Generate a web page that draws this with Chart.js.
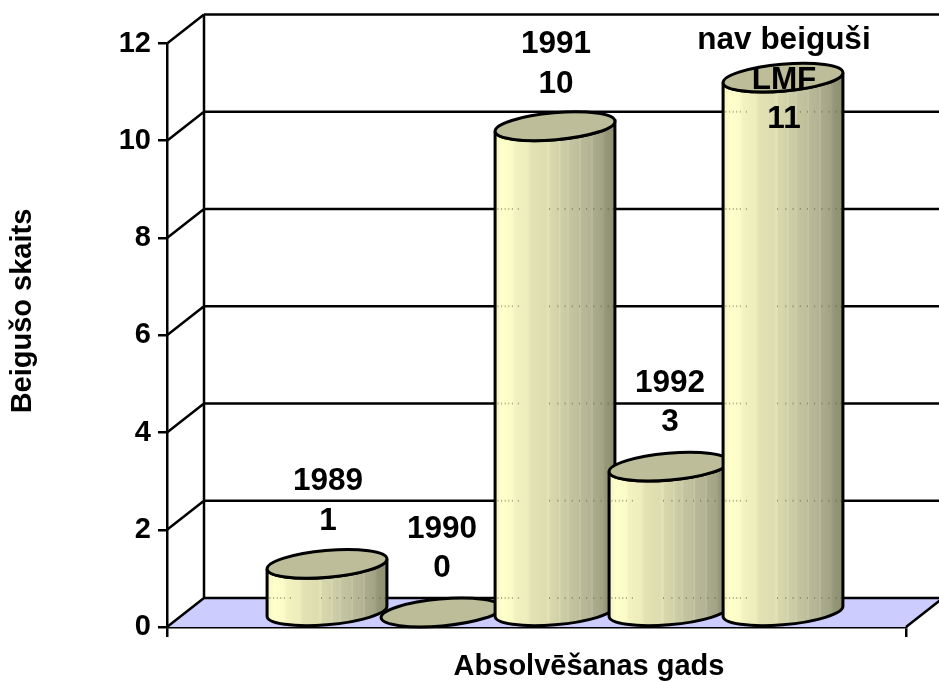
<!DOCTYPE html>
<html><head><meta charset="utf-8">
<style>html,body{margin:0;padding:0;background:#fff}#w{width:939px;height:682px}</style>
<script src="https://cdn.jsdelivr.net/npm/chart.js@4"></script></head>
<body><div id="w"><canvas id="c" width="939" height="682"></canvas></div>
<script>
const categories = ['Absolvēšanas gads'];
const seriesNames = ['1989', '1990', '1991', '1992', 'nav beiguši LMF'];
const seriesValues = [1, 0, 10, 3, 11];
const labelLines = [['1989','1'],['1990','0'],['1991','10'],['1992','3'],['nav beiguši','LMF','11']];
const labelLift = [43, 44, 42, 44, -42];
const yTicks = [0, 2, 4, 6, 8, 10, 12];
const xTitle = 'Absolvēšanas gads';
const yTitle = 'Beigušo skaits';

const DX = 37, DY = 29;
const FONT = '"Liberation Sans", Arial, sans-serif';
const bands = [[0,'#F4F4C4'],[.06,'#FFFFCC'],[.14,'#FBFBC8'],[.17,'#F2F2C0'],[.27,'#EDEDBD'],[.3,'#E2E2B4'],[.42,'#DDDDAF'],
  [.45,'#E4E4BC'],[.46,'#D8D8AC'],[.53,'#D2D2A8'],[.54,'#DADAB8'],[.55,'#CDCDA6'],[.6,'#C9C9A4'],[.61,'#D2D2B4'],[.62,'#C4C4A0'],
  [.7,'#BFBF9C'],[.71,'#C8C8AE'],[.72,'#B9B998'],[.8,'#B4B494'],[.81,'#BCBCA2'],[.82,'#ABAB8D'],[.9,'#A2A284'],[.92,'#96967A'],[1,'#8E8E70']];
const dotFracs = [.02,.05,.08,.11,.14,.19,.45,.52,.58,.64,.7,.76,.82,.88,.94,.98];
const TILT = -5 * Math.PI / 180, MINOR = 13.5;

const wallPlugin = {
  id: 'wall',
  beforeDatasetsDraw(chart) {
    const {ctx, chartArea: a, scales: {y}} = chart;
    const y0 = y.getPixelForValue(0), yTop = y.getPixelForValue(12);
    ctx.save();
    ctx.fillStyle = '#CCCCFF';
    ctx.beginPath();
    ctx.moveTo(a.left, y0); ctx.lineTo(a.left + DX, y0 - DY); ctx.lineTo(a.right + DX, y0 - DY); ctx.lineTo(a.right, y0);
    ctx.closePath(); ctx.fill();
    ctx.strokeStyle = '#000'; ctx.lineWidth = 2.5;
    ctx.beginPath();
    for (const v of yTicks) {
      const p = y.getPixelForValue(v);
      ctx.moveTo(a.left, p); ctx.lineTo(a.left + DX, p - DY);
      ctx.moveTo(a.left + DX, p - DY); ctx.lineTo(chart.width, p - DY);
    }
    ctx.moveTo(a.left + DX, yTop - DY); ctx.lineTo(a.left + DX, y0 - DY);
    ctx.moveTo(a.right, y0); ctx.lineTo(a.right + DX, y0 - DY);
    ctx.stroke();
    ctx.restore();
  }
};

function drawCylinder(ctx, y, el) {
  const cx = el.x + DX / 2, top = el.y - DY / 2, base = el.base - DY / 2, A = el.width / 2;
  const t0 = Math.atan2(-MINOR * Math.sin(TILT), A * Math.cos(TILT));
  const ex = A * Math.cos(t0) * Math.cos(TILT) - MINOR * Math.sin(t0) * Math.sin(TILT);
  const ey = A * Math.cos(t0) * Math.sin(TILT) + MINOR * Math.sin(t0) * Math.cos(TILT);
  ctx.save();
  ctx.strokeStyle = '#000'; ctx.lineWidth = 3;
  if (base - top > 1) {
    const g = ctx.createLinearGradient(cx - ex, 0, cx + ex, 0);
    bands.forEach(b => g.addColorStop(b[0], b[1]));
    ctx.fillStyle = g;
    ctx.beginPath();
    ctx.moveTo(cx + ex, top + ey);
    ctx.lineTo(cx + ex, base + ey);
    ctx.ellipse(cx, base, A, MINOR, TILT, t0, t0 + Math.PI, false);
    ctx.lineTo(cx - ex, top - ey);
    ctx.ellipse(cx, top, A, MINOR, TILT, t0 + Math.PI, t0, true);
    ctx.closePath();
    ctx.fill();
    ctx.save();
    ctx.clip();
    ctx.fillStyle = 'rgba(70,70,40,.45)';
    for (const v of yTicks) {
      const p = y.getPixelForValue(v) - DY;
      if (p > top && p < base + MINOR) {
        for (const f of dotFracs) ctx.fillRect(cx - ex + f * 2 * ex, p - 1, 1, 2);
      }
    }
    ctx.restore();
    ctx.stroke();
  }
  ctx.fillStyle = '#BDBD99';
  ctx.beginPath();
  ctx.ellipse(cx, top, A, MINOR, TILT, 0, Math.PI * 2);
  ctx.fill(); ctx.stroke();
  ctx.restore();
}

const cylinderPlugin = {
  id: 'cylinder',
  afterDatasetsDraw(chart) {
    chart.data.datasets.forEach((d, i) => {
      drawCylinder(chart.ctx, chart.scales.y, chart.getDatasetMeta(i).data[0]);
    });
  }
};

const textPlugin = {
  id: 'texts',
  afterDraw(chart) {
    const {ctx} = chart;
    ctx.save();
    ctx.fillStyle = '#000';
    ctx.textAlign = 'center'; ctx.textBaseline = 'middle';
    ctx.font = 'bold 31.5px ' + FONT;
    chart.data.datasets.forEach((d, i) => {
      const el = chart.getDatasetMeta(i).data[0];
      const lines = labelLines[i];
      const cx = el.x + DX / 2 + 1, top = el.y - DY / 2;
      lines.forEach((t, k) => {
        ctx.fillText(t, cx, top - labelLift[i] - (lines.length - 1 - k) * 39.5);
      });
    });
    ctx.font = 'bold 29px ' + FONT;
    ctx.fillText(xTitle, 589, 667);
    ctx.translate(23, 311); ctx.rotate(-Math.PI / 2);
    ctx.fillText(yTitle, 0, 0);
    ctx.restore();
  }
};

new Chart(document.getElementById('c'), {
  type: 'bar',
  data: {
    labels: categories,
    datasets: seriesNames.map((n, i) => ({
      label: n, data: [seriesValues[i]],
      backgroundColor: 'transparent', borderWidth: 0
    }))
  },
  options: {
    responsive: false, animation: false,
    devicePixelRatio: 1,
    layout: {padding: {top: 43.5, right: 33, bottom: 0, left: 0}},
    datasets: {bar: {barPercentage: 1.055, categoryPercentage: 0.7713}},
    plugins: {legend: {display: false}, tooltip: {enabled: false}, title: {display: false}},
    scales: {
      x: {
        afterFit(s) { s.height = 55; },
        ticks: {display: false},
        border: {color: '#000', width: 2.5},
        grid: {offset: true, drawOnChartArea: false, color: '#000', lineWidth: 2.5, tickLength: 10}
      },
      y: {
        min: 0, max: 12,
        afterFit(s) { s.width = 167; },
        afterBuildTicks(s) { s.ticks = yTicks.map(v => ({value: v})); },
        ticks: {color: '#000', font: {family: FONT, weight: 'bold', size: 29}, padding: 7},
        border: {color: '#000', width: 2.5},
        grid: {drawOnChartArea: false, color: '#000', lineWidth: 2.5, tickLength: 9}
      }
    }
  },
  plugins: [wallPlugin, cylinderPlugin, textPlugin]
});
</script></body></html>
